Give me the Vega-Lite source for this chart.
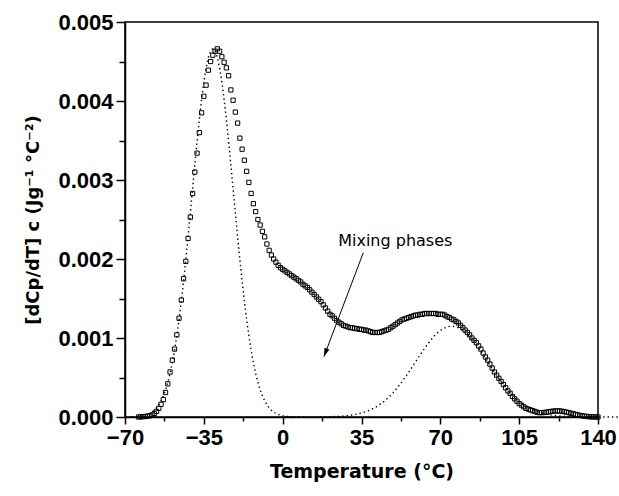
{
  "$schema": "https://vega.github.io/schema/vega-lite/v6.json",
  "autosize": "none",
  "width": 473,
  "height": 395,
  "padding": {"left": 125, "top": 22, "right": 21, "bottom": 79},
  "background": "white",
  "config": {
    "view": {"stroke": "black", "strokeWidth": 1.5},
    "axis": {
      "grid": false,
      "domainColor": "black",
      "domainWidth": 1.5,
      "tickColor": "black",
      "tickWidth": 1.5,
      "labelColor": "black",
      "titleColor": "black",
      "labelFont": "Liberation Sans",
      "labelFontSize": 22,
      "labelFontWeight": "bold",
      "titleFont": "DejaVu Sans",
      "titleFontWeight": "bold",
      "labelOverlap": false,
      "labelFlush": false,
      "labelBound": false
    }
  },
  "datasets": {
    "measured": [
      {"t":-64,"v":0},{"t":-63,"v":0.000002},{"t":-62,"v":0.000004},{"t":-61,"v":0.000007},{"t":-60,"v":0.00001},
      {"t":-59,"v":0.000015},{"t":-58,"v":0.000025},{"t":-57,"v":0.000045},{"t":-56,"v":0.00007},{"t":-55,"v":0.00011},
      {"t":-54,"v":0.00016},{"t":-53,"v":0.00022},{"t":-52,"v":0.00031},{"t":-51,"v":0.00042},{"t":-50,"v":0.00057},
      {"t":-49,"v":0.00072},{"t":-48,"v":0.00086},{"t":-47,"v":0.00104},{"t":-46,"v":0.00125},{"t":-45,"v":0.00148},
      {"t":-44,"v":0.00175},{"t":-43,"v":0.00197},{"t":-42,"v":0.00226},{"t":-41,"v":0.00253},{"t":-40,"v":0.00283},
      {"t":-39,"v":0.0031},{"t":-38,"v":0.00334},{"t":-37,"v":0.0036},{"t":-36,"v":0.00385},{"t":-35,"v":0.00406},
      {"t":-34,"v":0.0042},{"t":-33,"v":0.00439},{"t":-32,"v":0.0045},{"t":-31,"v":0.00458},{"t":-30,"v":0.00463},
      {"t":-29,"v":0.00466},{"t":-28,"v":0.00463},{"t":-27,"v":0.00456},{"t":-26,"v":0.00449},{"t":-25,"v":0.00442},
      {"t":-24,"v":0.00432},{"t":-23,"v":0.00414},{"t":-22,"v":0.00401},{"t":-21,"v":0.00386},{"t":-20,"v":0.00372},
      {"t":-19,"v":0.00353},{"t":-18,"v":0.00339},{"t":-17,"v":0.00325},{"t":-16,"v":0.00311},{"t":-15,"v":0.00297},
      {"t":-14,"v":0.00283},{"t":-13,"v":0.0027},{"t":-12,"v":0.0026},{"t":-11,"v":0.0025},{"t":-10,"v":0.00243},
      {"t":-9,"v":0.00235},{"t":-8,"v":0.00228},{"t":-7,"v":0.00219},{"t":-6,"v":0.00211},{"t":-5,"v":0.00205},
      {"t":-4,"v":0.002},{"t":-3,"v":0.00196},{"t":-2,"v":0.00192},{"t":-1,"v":0.00189},{"t":0,"v":0.00187},
      {"t":1,"v":0.00185},{"t":2,"v":0.00183},{"t":3,"v":0.00181},{"t":4,"v":0.00179},{"t":5,"v":0.00177},
      {"t":6,"v":0.00175},{"t":7,"v":0.00173},{"t":8,"v":0.00171},{"t":9,"v":0.00168},{"t":10,"v":0.00166},
      {"t":11,"v":0.00164},{"t":12,"v":0.00161},{"t":13,"v":0.00158},{"t":14,"v":0.00155},{"t":15,"v":0.00152},
      {"t":16,"v":0.00149},{"t":17,"v":0.00146},{"t":18,"v":0.00142},{"t":19,"v":0.00138},{"t":20,"v":0.00134},
      {"t":21,"v":0.0013},{"t":22,"v":0.00128},{"t":23,"v":0.00125},{"t":24,"v":0.00122},{"t":25,"v":0.0012},
      {"t":26,"v":0.00118},{"t":27,"v":0.00116},{"t":28,"v":0.00115},{"t":29,"v":0.00114},{"t":30,"v":0.00113},
      {"t":31,"v":0.00113},{"t":32,"v":0.00112},{"t":33,"v":0.00112},{"t":34,"v":0.00111},{"t":35,"v":0.00111},
      {"t":36,"v":0.0011},{"t":37,"v":0.0011},{"t":38,"v":0.00109},{"t":39,"v":0.00108},{"t":40,"v":0.00107},
      {"t":41,"v":0.00107},{"t":42,"v":0.00107},{"t":43,"v":0.00107},{"t":44,"v":0.00108},{"t":45,"v":0.00109},
      {"t":46,"v":0.0011},{"t":47,"v":0.00111},{"t":48,"v":0.00113},{"t":49,"v":0.00115},{"t":50,"v":0.00117},
      {"t":51,"v":0.00119},{"t":52,"v":0.00121},{"t":53,"v":0.00123},{"t":54,"v":0.00124},{"t":55,"v":0.00125},
      {"t":56,"v":0.00126},{"t":57,"v":0.00127},{"t":58,"v":0.00128},{"t":59,"v":0.00129},{"t":60,"v":0.00129},
      {"t":61,"v":0.0013},{"t":62,"v":0.0013},{"t":63,"v":0.00131},{"t":64,"v":0.00131},{"t":65,"v":0.00131},
      {"t":66,"v":0.00131},{"t":67,"v":0.00131},{"t":68,"v":0.00131},{"t":69,"v":0.0013},{"t":70,"v":0.0013},
      {"t":71,"v":0.0013},{"t":72,"v":0.00129},{"t":73,"v":0.00127},{"t":74,"v":0.00126},{"t":75,"v":0.00124},
      {"t":76,"v":0.00123},{"t":77,"v":0.00121},{"t":78,"v":0.00119},{"t":79,"v":0.00116},{"t":80,"v":0.00113},
      {"t":81,"v":0.0011},{"t":82,"v":0.00107},{"t":83,"v":0.00104},{"t":84,"v":0.001},{"t":85,"v":0.00097},
      {"t":86,"v":0.00094},{"t":87,"v":0.0009},{"t":88,"v":0.00086},{"t":89,"v":0.00081},{"t":90,"v":0.00076},
      {"t":91,"v":0.00072},{"t":92,"v":0.00067},{"t":93,"v":0.00062},{"t":94,"v":0.00057},{"t":95,"v":0.00053},
      {"t":96,"v":0.00049},{"t":97,"v":0.00045},{"t":98,"v":0.00041},{"t":99,"v":0.00037},{"t":100,"v":0.00033},
      {"t":101,"v":0.0003},{"t":102,"v":0.00026},{"t":103,"v":0.00023},{"t":104,"v":0.0002},{"t":105,"v":0.00017},
      {"t":106,"v":0.00015},{"t":107,"v":0.00013},{"t":108,"v":0.00011},{"t":109,"v":0.0001},{"t":110,"v":0.00009},
      {"t":111,"v":0.00008},{"t":112,"v":0.00007},{"t":113,"v":0.00006},{"t":114,"v":0.000055},{"t":115,"v":0.000055},
      {"t":116,"v":0.000057},{"t":117,"v":0.00006},{"t":118,"v":0.000065},{"t":119,"v":0.00007},{"t":120,"v":0.000074},
      {"t":121,"v":0.000076},{"t":122,"v":0.000077},{"t":123,"v":0.000076},{"t":124,"v":0.000073},{"t":125,"v":0.000068},
      {"t":126,"v":0.000062},{"t":127,"v":0.000055},{"t":128,"v":0.000048},{"t":129,"v":0.00004},{"t":130,"v":0.000033},
      {"t":131,"v":0.000026},{"t":132,"v":0.00002},{"t":133,"v":0.000015},{"t":134,"v":0.00001},{"t":135,"v":0.000007},
      {"t":136,"v":0.000004},{"t":137,"v":0.000002},{"t":138,"v":0.000001},{"t":139,"v":0},{"t":140,"v":0}
    ],
    "fit": [
      {"s":"a","t":-67,"v":0.0000022},{"s":"a","t":-66,"v":0.0000034},{"s":"a","t":-65,"v":0.000005},{"s":"a","t":-64,"v":0.0000075},
      {"s":"a","t":-63,"v":0.000011},{"s":"a","t":-62,"v":0.000016},{"s":"a","t":-61,"v":0.000023},{"s":"a","t":-60,"v":0.000032},
      {"s":"a","t":-59,"v":0.000045},{"s":"a","t":-58,"v":0.000063},{"s":"a","t":-57,"v":0.000086},{"s":"a","t":-56,"v":0.000116},
      {"s":"a","t":-55,"v":0.000155},{"s":"a","t":-54,"v":0.000205},{"s":"a","t":-53,"v":0.000267},{"s":"a","t":-52,"v":0.000344},
      {"s":"a","t":-51,"v":0.000439},{"s":"a","t":-50,"v":0.000552},{"s":"a","t":-49,"v":0.000687},{"s":"a","t":-48,"v":0.000845},
      {"s":"a","t":-47,"v":0.001027},{"s":"a","t":-46,"v":0.001234},{"s":"a","t":-45,"v":0.001464},{"s":"a","t":-44,"v":0.001717},
      {"s":"a","t":-43,"v":0.00199},{"s":"a","t":-42,"v":0.00228},{"s":"a","t":-41,"v":0.002581},{"s":"a","t":-40,"v":0.002888},
      {"s":"a","t":-39,"v":0.003193},{"s":"a","t":-38,"v":0.003489},{"s":"a","t":-37,"v":0.003767},{"s":"a","t":-36,"v":0.00402},
      {"s":"a","t":-35,"v":0.00424},{"s":"a","t":-34,"v":0.004419},{"s":"a","t":-33,"v":0.004551},{"s":"a","t":-32,"v":0.004632},
      {"s":"a","t":-31,"v":0.00466},{"s":"a","t":-30,"v":0.004632},{"s":"a","t":-29,"v":0.004551},{"s":"a","t":-28,"v":0.004419},
      {"s":"a","t":-27,"v":0.00424},{"s":"a","t":-26,"v":0.00402},{"s":"a","t":-25,"v":0.003767},{"s":"a","t":-24,"v":0.003489},
      {"s":"a","t":-23,"v":0.003193},{"s":"a","t":-22,"v":0.002888},{"s":"a","t":-21,"v":0.002581},{"s":"a","t":-20,"v":0.00228},
      {"s":"a","t":-19,"v":0.00199},{"s":"a","t":-18,"v":0.001717},{"s":"a","t":-17,"v":0.001464},{"s":"a","t":-16,"v":0.001234},
      {"s":"a","t":-15,"v":0.001027},{"s":"a","t":-14,"v":0.000845},{"s":"a","t":-13,"v":0.000687},{"s":"a","t":-12,"v":0.000552},
      {"s":"a","t":-11,"v":0.000439},{"s":"a","t":-10,"v":0.000344},{"s":"a","t":-9,"v":0.000267},{"s":"a","t":-8,"v":0.000205},
      {"s":"a","t":-7,"v":0.000155},{"s":"a","t":-6,"v":0.000116},{"s":"a","t":-5,"v":0.000086},{"s":"a","t":-4,"v":0.000063},
      {"s":"a","t":-3,"v":0.000045},{"s":"a","t":-2,"v":0.000032},{"s":"a","t":-1,"v":0.000023},{"s":"a","t":0,"v":0.000016},
      {"s":"a","t":1,"v":0.000011},{"s":"a","t":2,"v":0.0000075},{"s":"a","t":3,"v":0.000005},{"s":"a","t":4,"v":0.0000034},
      {"s":"a","t":5,"v":0.0000022},
      {"s":"b","t":1,"v":0},{"s":"b","t":5,"v":0},{"s":"b","t":9,"v":0},{"s":"b","t":13,"v":0},{"s":"b","t":17,"v":0.000001},
      {"s":"b","t":19,"v":0.0000025},{"s":"b","t":21,"v":0.0000039},{"s":"b","t":23,"v":0.0000059},{"s":"b","t":25,"v":0.0000087},
      {"s":"b","t":27,"v":0.0000128},{"s":"b","t":29,"v":0.0000184},{"s":"b","t":31,"v":0.0000262},{"s":"b","t":33,"v":0.0000367},
      {"s":"b","t":35,"v":0.0000505},{"s":"b","t":37,"v":0.0000686},{"s":"b","t":39,"v":0.0000915},{"s":"b","t":41,"v":0.00012},
      {"s":"b","t":43,"v":0.000156},{"s":"b","t":45,"v":0.000198},{"s":"b","t":47,"v":0.000249},{"s":"b","t":49,"v":0.000307},
      {"s":"b","t":51,"v":0.000373},{"s":"b","t":53,"v":0.000447},{"s":"b","t":55,"v":0.000526},{"s":"b","t":57,"v":0.000611},
      {"s":"b","t":59,"v":0.000698},{"s":"b","t":61,"v":0.000784},{"s":"b","t":63,"v":0.000868},{"s":"b","t":65,"v":0.000946},
      {"s":"b","t":67,"v":0.001015},{"s":"b","t":69,"v":0.001072},{"s":"b","t":71,"v":0.001115},{"s":"b","t":73,"v":0.001141},
      {"s":"b","t":75,"v":0.00115},{"s":"b","t":77,"v":0.001141},{"s":"b","t":79,"v":0.001115},{"s":"b","t":81,"v":0.001072},
      {"s":"b","t":83,"v":0.001015},{"s":"b","t":85,"v":0.000946},{"s":"b","t":87,"v":0.000868},{"s":"b","t":89,"v":0.000784},
      {"s":"b","t":91,"v":0.000698},{"s":"b","t":93,"v":0.000611},{"s":"b","t":95,"v":0.000526},{"s":"b","t":97,"v":0.000447},
      {"s":"b","t":99,"v":0.000373},{"s":"b","t":101,"v":0.000307},{"s":"b","t":103,"v":0.000249},{"s":"b","t":105,"v":0.000198},
      {"s":"b","t":107,"v":0.000156},{"s":"b","t":109,"v":0.00012},{"s":"b","t":111,"v":0.0000915},{"s":"b","t":113,"v":0.0000686},
      {"s":"b","t":115,"v":0.0000505},{"s":"b","t":117,"v":0.0000367},{"s":"b","t":119,"v":0.0000262},{"s":"b","t":121,"v":0.0000184},
      {"s":"b","t":123,"v":0.0000128},{"s":"b","t":125,"v":0.0000087},{"s":"b","t":127,"v":0.0000059},{"s":"b","t":129,"v":0.0000039},
      {"s":"b","t":131,"v":0.0000025},{"s":"b","t":135,"v":0},{"s":"b","t":140,"v":0},{"s":"b","t":145,"v":0},{"s":"b","t":149,"v":0}
    ],
    "arrow": [{"t": 35.8, "v": 0.00208, "t2": 18.3, "v2": 0.000763}],
    "head": [{"t": 18.3, "v": 0.000763}],
    "note": [{"t": 50, "v": 0.00216, "label": "Mixing phases"}]
  },
  "encoding": {
    "x": {
      "field": "t",
      "type": "quantitative",
      "scale": {"domain": [-70, 140], "nice": false, "zero": false},
      "axis": {
        "values": [-70, -52.5, -35, -17.5, 0, 17.5, 35, 52.5, 70, 87.5, 105, 122.5, 140],
        "labelExpr": "datum.value % 35 == 0 ? format(datum.value, 'd') : ''",
        "tickSize": {"condition": {"test": "datum.value % 35 == 0", "value": 7}, "value": 4},
        "labelPadding": 3,
        "title": "Temperature (°C)",
        "titleFontSize": 19,
        "titlePadding": 14
      }
    },
    "y": {
      "field": "v",
      "type": "quantitative",
      "scale": {"domain": [0, 0.005], "nice": false},
      "axis": {
        "values": [0, 0.0005, 0.001, 0.0015, 0.002, 0.0025, 0.003, 0.0035, 0.004, 0.0045, 0.005],
        "labelExpr": "round(datum.value * 10000) % 10 == 0 ? format(datum.value, '.3f') : ''",
        "tickSize": {"condition": {"test": "round(datum.value * 10000) % 10 == 0", "value": 9}, "value": 6},
        "labelPadding": 3,
        "title": "[dCp/dT]  c  (Jg⁻¹ °C⁻²)",
        "titleFontSize": 18,
        "titlePadding": 15
      }
    }
  },
  "layer": [
    {
      "data": {"name": "fit"},
      "mark": {"type": "line", "color": "black", "strokeWidth": 1.4, "strokeDash": [1.4, 3], "strokeCap": "butt"},
      "encoding": {"detail": {"field": "s"}}
    },
    {
      "data": {"name": "measured"},
      "mark": {"type": "point", "shape": "square", "filled": false, "stroke": "black", "strokeWidth": 1, "size": 18, "opacity": 1}
    },
    {
      "data": {"name": "arrow"},
      "mark": {"type": "rule", "color": "black", "strokeWidth": 1},
      "encoding": {"x2": {"field": "t2"}, "y2": {"field": "v2"}}
    },
    {
      "data": {"name": "head"},
      "mark": {"type": "point", "shape": "M0,0 L0.3,1 L-0.3,1 Z", "filled": true, "color": "black", "size": 300, "angle": 200.6, "opacity": 1, "strokeWidth": 0}
    },
    {
      "data": {"name": "note"},
      "mark": {"type": "text", "font": "DejaVu Sans", "fontSize": 16, "align": "center", "baseline": "alphabetic", "color": "black"},
      "encoding": {"text": {"field": "label"}}
    }
  ]
}
